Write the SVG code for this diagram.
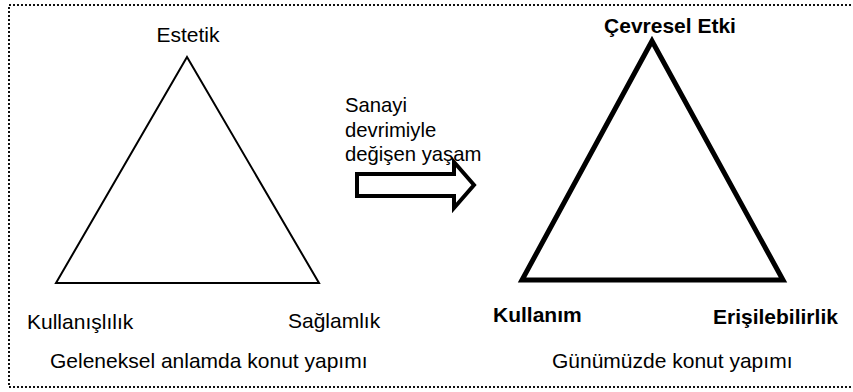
<svg xmlns="http://www.w3.org/2000/svg" width="853" height="392" viewBox="0 0 853 392">
<style>
.t{font-family:"Liberation Sans",Arial,sans-serif;font-size:21px;fill:#000}
.s{font-size:20.3px}
.b{font-weight:bold}
.tri{fill:#fff;stroke:#000;stroke-linejoin:miter}
</style>
<rect x="0" y="0" width="853" height="392" fill="#fff"/>
<rect x="9" y="5" width="846" height="382" fill="none" stroke="#111" stroke-width="2" stroke-dasharray="2 2"/>
<g id="left-triangle">
<polygon class="tri" points="187,57 56,283 319,283" stroke-width="2"/>
<text class="t" x="188" y="42" text-anchor="middle">Estetik</text>
<text class="t" x="27" y="329">Kullanışlılık</text>
<text class="t" x="288" y="328">Sağlamlık</text>
<text class="t" x="50" y="368">Geleneksel anlamda konut yapımı</text>
</g>
<g id="arrow">
<polygon points="357,174 454,174 454,162 474,185 454,208 454,196 357,196" fill="#fff" stroke="#000" stroke-width="4"/>
<text class="t s" x="345" y="112">Sanayi</text>
<text class="t s" x="345" y="136.5">devrimiyle</text>
<text class="t s" x="345" y="161">değişen yaşam</text>
</g>
<g id="right-triangle">
<polygon class="tri" points="652,41 522,280 783,280" stroke-width="5"/>
<text class="t b" x="670" y="33" text-anchor="middle">Çevresel Etki</text>
<text class="t b" x="493" y="322">Kullanım</text>
<text class="t b" x="713" y="324">Erişilebilirlik</text>
<text class="t" x="552" y="368">Günümüzde konut yapımı</text>
</g>
</svg>
